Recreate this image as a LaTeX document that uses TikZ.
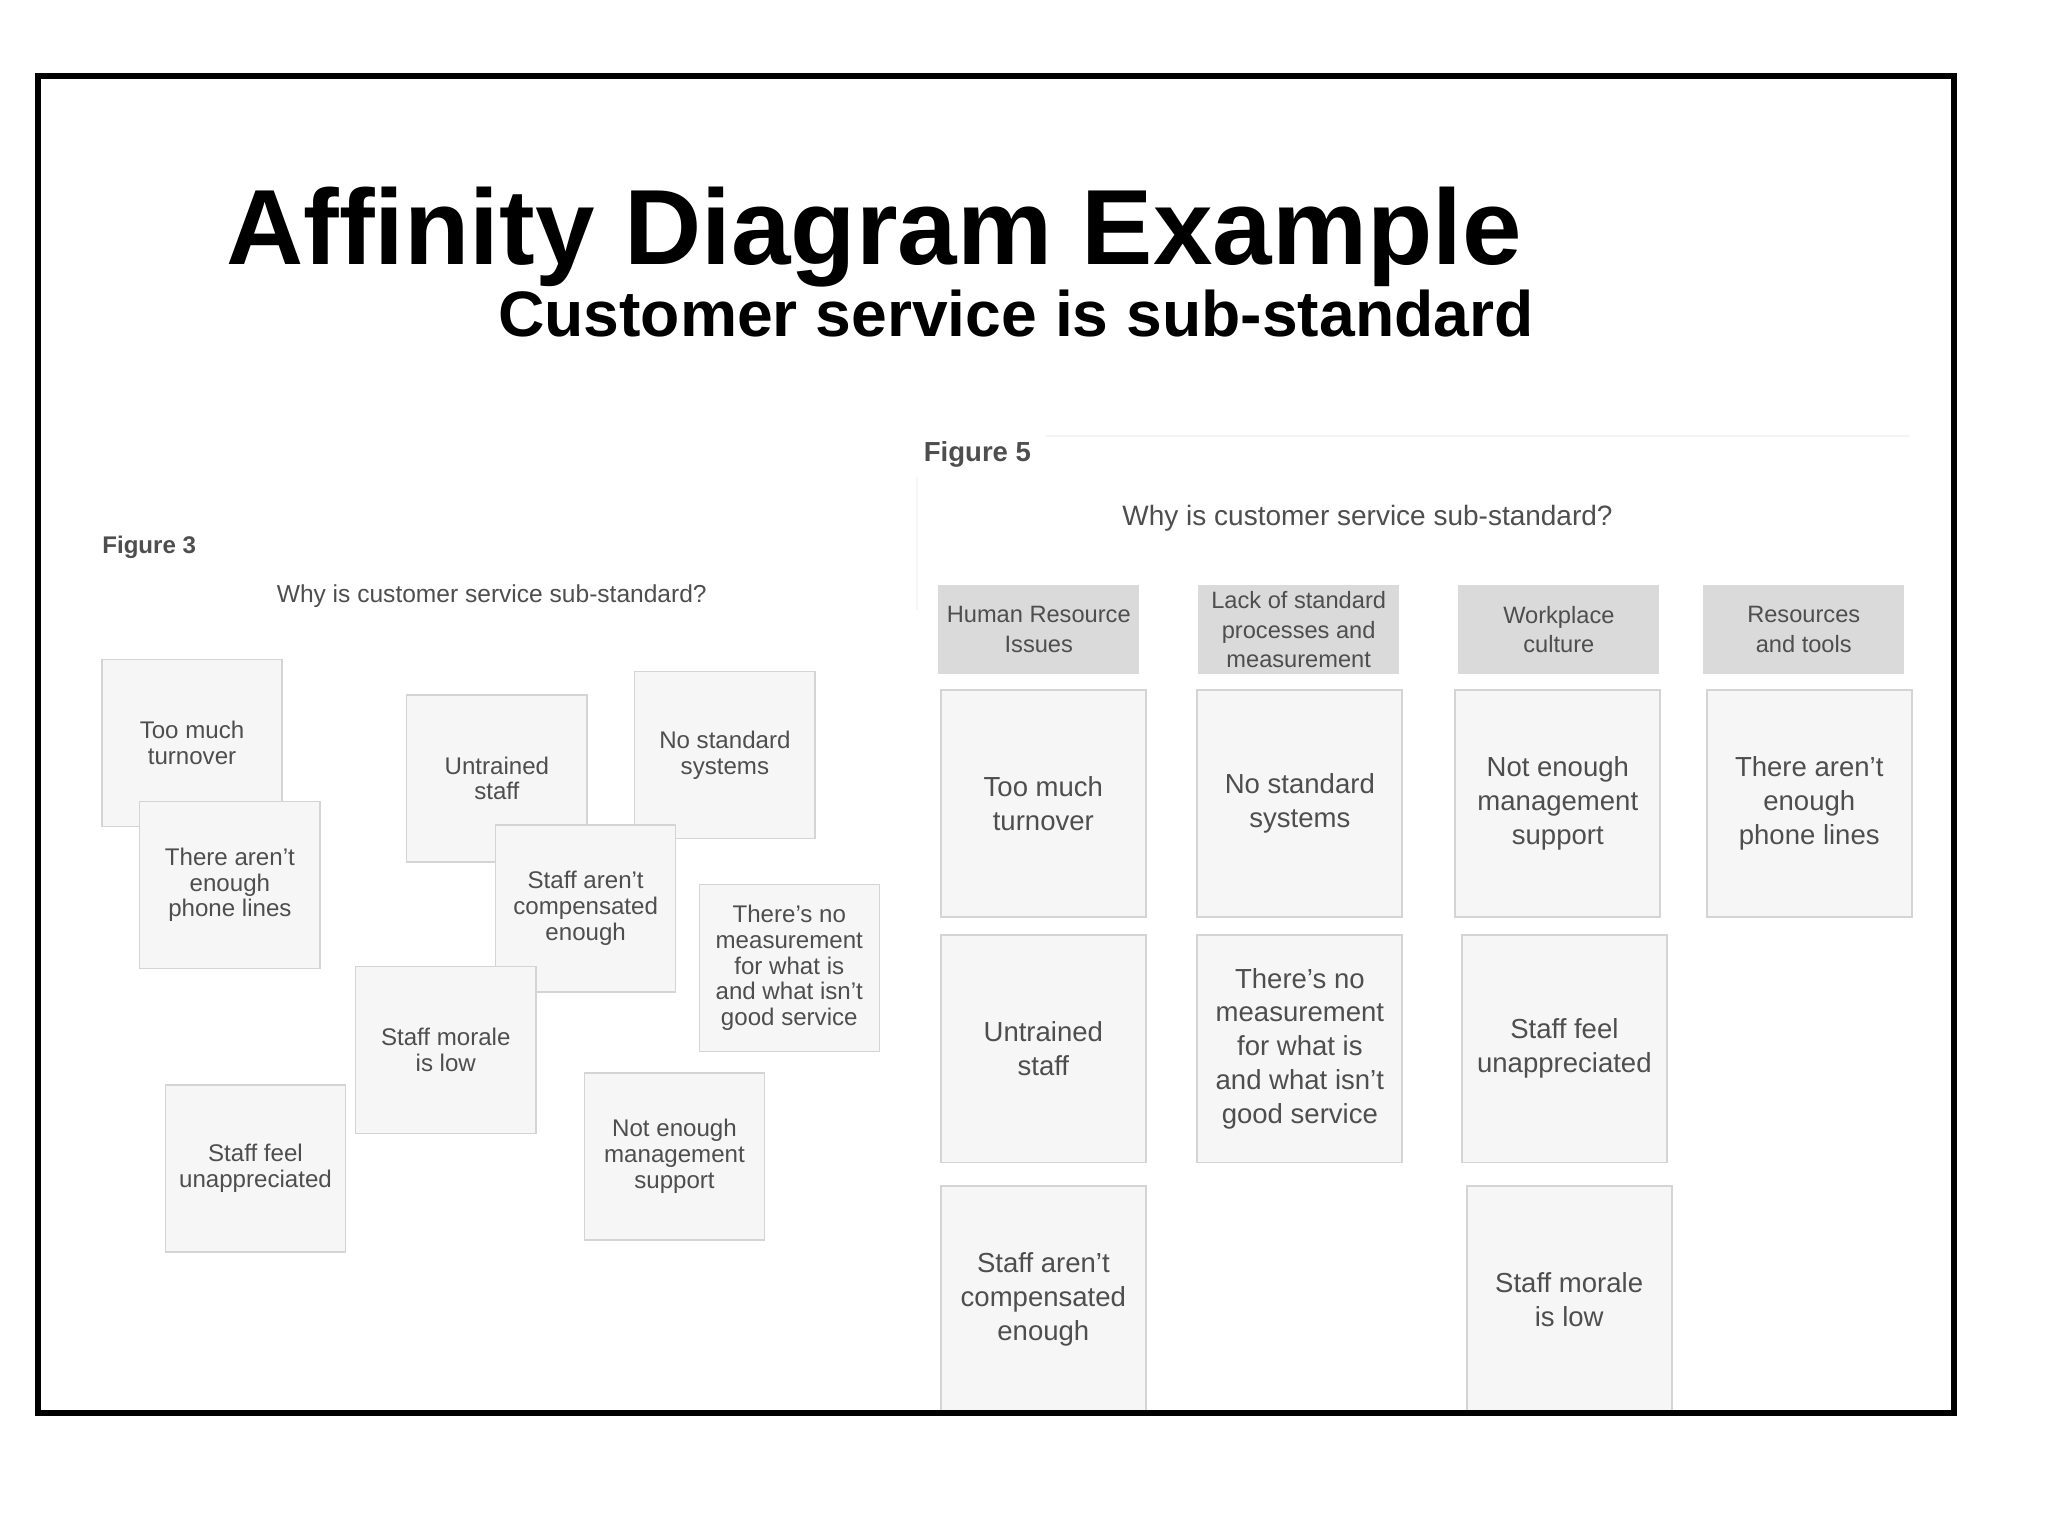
\documentclass[tikz,border=0pt]{standalone}
\usepackage{fontspec}
\setmainfont{Liberation Sans}
\definecolor{noteFill}{RGB}{246,246,246}
\definecolor{noteEdge}{RGB}{212,212,212}
\definecolor{headFill}{RGB}{218,218,218}
\definecolor{inkGray}{RGB}{78,78,78}

\begin{document}
\begin{tikzpicture}[x=0.02cm, y=-0.02cm,
	every node/.style={inner sep=0pt, text=inkGray},
	note3/.style={draw=noteEdge, fill=noteFill, line width=0.6pt, align=center,
		minimum width=2.76cm, minimum height=2.56cm, font=\fontsize{10.5}{11.2}\selectfont},
	note5/.style={draw=noteEdge, fill=noteFill, line width=0.8pt, align=center,
		minimum width=3.14cm, minimum height=3.48cm, font=\fontsize{12}{14.8}\selectfont},
	head5/.style={fill=headFill, align=center, minimum width=3.08cm, minimum height=1.36cm,
		font=\fontsize{10.3}{12.8}\selectfont}]
		\useasboundingbox[fill=white] (0,0) rectangle (1568,1176);
		% Slide title
		\node[anchor=base west, text=black, font=\fontsize{46.6}{50}\selectfont\bfseries] (title) at (173,202.5) {Affinity Diagram Example};
		\node[anchor=base west, text=black, font=\fontsize{28}{30}\selectfont\bfseries] (subtitle) at (381,258) {Customer service is sub-standard};
		% Figure 3 (loose notes)
		\node[anchor=west, font=\fontsize{10.5}{12}\selectfont\bfseries] (fig3) at (78,419) {Figure 3};
		\node[font=\fontsize{10.7}{12}\selectfont] (why3) at (376.5,456.5) {Why is customer service sub-standard?};
		\node[note3] (tooMuch3) at (147,569) {Too much\\turnover};
		\node[note3] (phoneLines3) at (176,677.5) {There aren’t\\enough\\phone lines};
		\node[note3] (untrained3) at (380.4,596) {Untrained\\staff};
		\node[note3] (noStandard3) at (555,578) {No standard\\systems};
		\node[note3] (compensated3) at (448.4,695.5) {Staff aren’t\\compensated\\enough};
		\node[note3] (morale3) at (341.3,804) {Staff morale\\is low};
		\node[note3] (measurement3) at (604.3,741) {There’s no\\measurement\\for what is\\and what isn’t\\good service};
		\node[note3] (unappreciated3) at (195.6,894.7) {Staff feel\\unappreciated};
		\node[note3] (mgmt3) at (516.4,885.4) {Not enough\\management\\support};
		% Figure 5 (grouped notes)
		\draw[gray!9, line width=1pt] (800,334) -- (1462,334);
		\draw[gray!7, line width=1pt] (702,365) -- (702,467);
		\node[anchor=west, font=\fontsize{12}{14}\selectfont\bfseries] (fig5) at (707,348) {Figure 5};
		\node[font=\fontsize{12.2}{14}\selectfont] (why5) at (1047,397) {Why is customer service sub-standard?};
		\node[head5] (hrHead) at (795.3,482) {Human Resource\\Issues};
		\node[head5] (lackHead) at (994.3,482) {Lack of standard\\processes and\\measurement};
		\node[head5] (cultureHead) at (1193.5,482) {Workplace\\culture};
		\node[head5] (toolsHead) at (1381,482) {Resources\\and tools};
		\node[note5] (tooMuch5) at (798.8,615) {Too much\\turnover};
		\node[note5] (noStandard5) at (995.2,615) {No standard\\systems};
		\node[note5] (mgmt5) at (1192.7,615) {Not enough\\management\\support};
		\node[note5] (phoneLines5) at (1385.2,615) {There aren’t\\enough\\phone lines};
		\node[note5] (untrained5) at (798.8,803) {Untrained\\staff};
		\node[note5] (measurement5) at (995.2,803) {There’s no\\measurement\\for what is\\and what isn’t\\good service};
		\node[note5] (unappreciated5) at (1197.7,803) {Staff feel\\unappreciated};
		\node[note5] (compensated5) at (798.8,995) {Staff aren’t\\compensated\\enough};
		\node[note5] (morale5) at (1201.4,995) {Staff morale\\is low};
		% Slide frame
		\draw[black, line width=2.6pt] (29,58.5) rectangle (1496,1082);
	\end{tikzpicture}
\end{document}
